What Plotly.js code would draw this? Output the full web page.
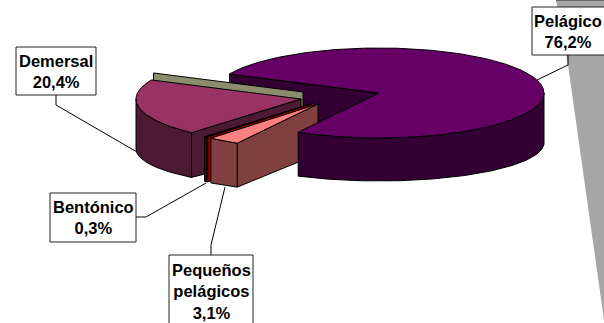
<!DOCTYPE html>
<html><head><meta charset="utf-8">
<script src="https://cdn.plot.ly/plotly-3.0.1.min.js"></script>
<style>html,body{margin:0;padding:0;background:#fff}#c{width:604px;height:323px}</style>
</head><body><div id="c"></div>
<script>
// Data
const categories = ["Pelágico", "Pequeños pelágicos", "Bentónico", "Demersal", "Otros"];
const values = [76.2, 3.1, 0.3, 20.4, 0];
const labelLines = [["Pelágico","76,2%"],["Pequeños","pelágicos","3,1%"],["Bentónico","0,3%"],["Demersal","20,4%"]];

// Styling / geometry of the projected pie
const topColors = ["#660066","#FF8080","#800000","#993366","#8C8C6E"];
const wallColors = ["#330033","#804040","#800000","#4D1A33","#8C8C6E"];
const rimColors = ["#330033","#804040","#4D0000","#4D1A33","#8C8C6E"];
const apexX = [379,318,314,301,303];
const apexY = [93,104,103,99,92];
const RX=165, RY=45, RYB=38, DEPTH=50, START=205;

// slice angular ranges derived from values
const ranges=[]; let a=START;
values.forEach(v=>{const s=v/100*360; ranges.push([a,a+s]); a+=s;});
const rad=d=>d*Math.PI/180;
function rimTop(i,t){return [apexX[i]+RX*Math.cos(rad(t)),apexY[i]+RY*Math.sin(rad(t))];}
function rimBot(i,t){return [apexX[i]+RX*Math.cos(rad(t)),apexY[i]+DEPTH+RYB*Math.sin(rad(t))];}
function arc(fn,i,t0,t1,step=1.0){const p=[];const n=Math.max(1,Math.ceil(Math.abs(t1-t0)/step));for(let k=0;k<=n;k++)p.push(fn(i,t0+(t1-t0)*k/n));return p;}
function poly(pts,fill,lw=1,col="#000"){const P=pts.concat([pts[0]]);return {type:"scatter",mode:"lines",x:P.map(q=>q[0]),y:P.map(q=>q[1]),fill:"toself",fillcolor:fill,line:{color:col,width:lw,shape:"linear"},hoverinfo:"skip",showlegend:false};}
function topFace(i){const [t0,t1]=ranges[i];return poly([[apexX[i],apexY[i]]].concat(arc(rimTop,i,t0,t1)),topColors[i]);}
function cutWall(i,t){return poly([rimTop(i,t),[apexX[i],apexY[i]],[apexX[i],apexY[i]+DEPTH],rimBot(i,t)],wallColors[i]);}
function outerWalls(i){
  let [t0,t1]=ranges[i]; const out=[];
  for(const base of [0,360]){
    const a0=Math.max(t0,base),a1=Math.min(t1,base+180);
    if(a1>a0) out.push(poly(arc(rimTop,i,a0,a1).concat(arc(rimBot,i,a1,a0)),rimColors[i]));
  }
  return out;
}
const iMain=0,iPeq=1,iBen=2,iDem=3,iOlive=4;
const traces=[];
// grey backdrop wedge at right
traces.push({type:"scatter",mode:"lines",x:[556,568,604,604,556],y:[0,65,320,0,0],fill:"toself",fillcolor:"#A6A6A6",line:{color:"#A6A6A6",width:0},hoverinfo:"skip",showlegend:false});
traces.push({type:"scatter",mode:"lines",x:[556,604],y:[0.5,0.5],line:{color:"#666",width:1},hoverinfo:"skip",showlegend:false});
// back to front
traces.push(cutWall(iMain,ranges[iMain][0]+0));
traces.push(cutWall(iOlive,ranges[iOlive][0]));
traces.push(cutWall(iDem,ranges[iDem][0]));
outerWalls(iDem).forEach(t=>traces.push(t));
traces.push(topFace(iDem));
traces.push(cutWall(iBen,ranges[iBen][0]));
outerWalls(iBen).forEach(t=>traces.push(t));
traces.push(topFace(iBen));
traces.push(cutWall(iPeq,ranges[iPeq][0]));
outerWalls(iPeq).forEach(t=>traces.push(t));
traces.push(topFace(iPeq));
outerWalls(iMain).forEach(t=>traces.push(t));
traces.push(topFace(iMain));

// label boxes and leaders
const boxes=[[532,7,606,55],[169,255,253,327],[50,193,136,242],[16,47,96,95]];
const leaders=[[[568,55],[568,65],[537,80]],[[211,255],[211,245],[225,187]],[[136,217],[146,217],[206,183]],[[56,95],[56,105],[137,152]]];
leaders.forEach(L=>traces.push({type:"scatter",mode:"lines",x:L.map(p=>p[0]),y:L.map(p=>p[1]),line:{color:"#000",width:1},hoverinfo:"skip",showlegend:false}));
const shapes=boxes.map(b=>({type:"rect",xref:"x",yref:"y",x0:b[0],y0:b[1],x1:b[2],y1:b[3],fillcolor:"#fff",line:{color:"#222",width:1},layer:"above"}));
const annotations=boxes.map((b,i)=>({xref:"x",yref:"y",x:(b[0]+Math.min(b[2],604))/2,y:(b[1]+b[3])/2,text:labelLines[i].join("<br>"),showarrow:false,font:{family:"Liberation Sans, Arial, sans-serif",size:16.5,color:"#000",weight:700},align:"center",xanchor:"center",yanchor:"middle"}));

Plotly.newPlot("c",traces,{
  width:604,height:323,margin:{l:0,r:0,t:0,b:0},
  paper_bgcolor:"#fff",plot_bgcolor:"#fff",showlegend:false,
  xaxis:{range:[0,604],visible:false,fixedrange:true},
  yaxis:{range:[323,0],visible:false,fixedrange:true},
  shapes,annotations
},{displayModeBar:false,staticPlot:true});
</script></body></html>
